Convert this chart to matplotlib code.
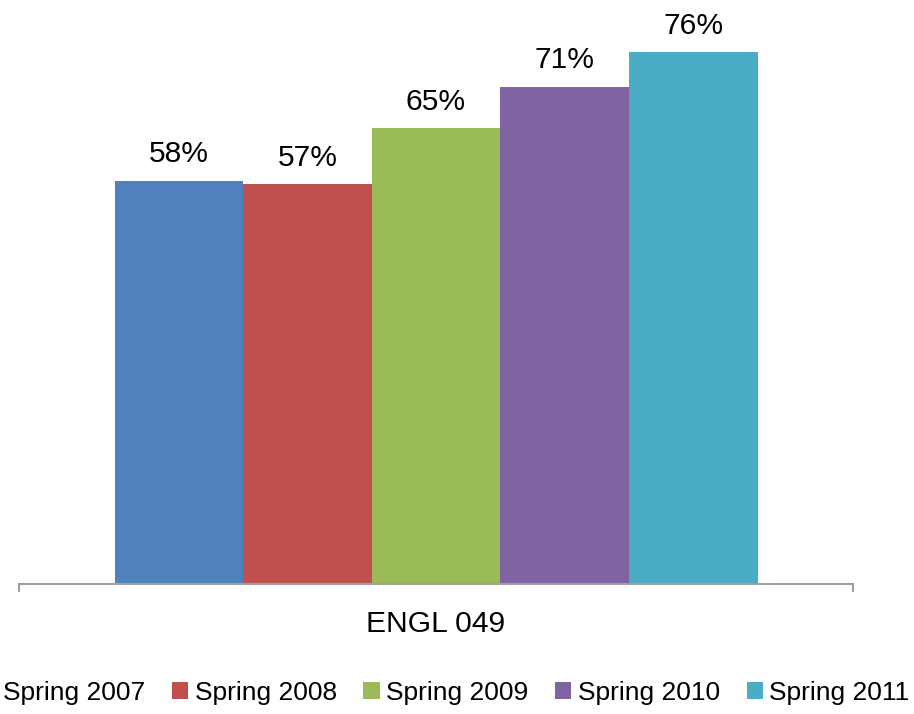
import matplotlib
matplotlib.use("Agg")
import matplotlib.pyplot as plt
from matplotlib.patches import Patch

plt.rcParams['font.family'] = ['Liberation Sans', 'DejaVu Sans']

category = "ENGL 049"
series = ["Spring 2007", "Spring 2008", "Spring 2009", "Spring 2010", "Spring 2011"]
values = [57.6, 57.1, 65.1, 71.0, 76.0]
colors = ["#4F81BD", "#C0504D", "#9BBB59", "#8064A2", "#4BACC6"]

fig = plt.figure(figsize=(9.14, 7.14), dpi=100)
ax = fig.add_axes([19/914, 1 - 584/714, 834/914, 584/714])

w = 128.6 / 834
n = len(series)
for i, (s, v, c) in enumerate(zip(series, values, colors)):
    x = (i - (n - 1) / 2) * w
    ax.bar(x, v, width=w, color=c, label=s, zorder=2)
    ax.annotate(f"{v:.0f}%", xy=(x, v), xytext=(0, 9), textcoords="offset points",
                ha="center", va="bottom", fontsize=21.6, color="black")

ax.set_xlim(-0.5, 0.5)
ax.set_ylim(0, 584 / 7.0)

for sp in ["top", "right", "left"]:
    ax.spines[sp].set_visible(False)
ax.spines["bottom"].set_color("#A0A0A0")
ax.spines["bottom"].set_linewidth(1.5)
ax.set_yticks([])

ax.set_xticks([0])
ax.set_xticklabels([category], fontsize=21.6)
ax.tick_params(axis="x", which="major", length=0, pad=19)
ax.set_xticks([-0.5, 0.5], minor=True)
ax.tick_params(axis="x", which="minor", length=6, width=1.5, color="#A0A0A0", direction="out")

handles = [Patch(facecolor=c, edgecolor="none") for c in colors]
fig.legend(handles, series, loc="center", ncol=5, frameon=False,
           bbox_to_anchor=(445 / 914, 1 - 693 / 714), fontsize=19,
           handlelength=0.62, handleheight=0.62, handletextpad=0.25,
           columnspacing=1.0, borderpad=0, borderaxespad=0)

fig.savefig("out.png", dpi=100)
